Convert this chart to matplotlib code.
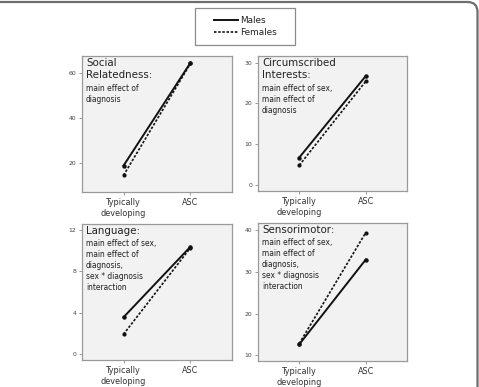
import matplotlib
matplotlib.use("Agg")
import matplotlib.pyplot as plt
from matplotlib.patches import Rectangle
from matplotlib.lines import Line2D
from matplotlib.path import Path
from matplotlib.patches import PathPatch

groups = ["Typically\ndeveloping", "ASC"]
titles = ["Social\nRelatedness:", "Circumscribed\nInterests:", "Language:", "Sensorimotor:"]
notes = ["main effect of\ndiagnosis",
         "main effect of sex,\nmain effect of\ndiagnosis",
         "main effect of sex,\nmain effect of\ndiagnosis,\nsex * diagnosis\ninteraction",
         "main effect of sex,\nmain effect of\ndiagnosis,\nsex * diagnosis\ninteraction"]
males = [[18.8, 64.5], [6.7, 26.7], [3.55, 10.4], [12.6, 33.0]]
females = [[14.5, 64.2], [4.8, 25.4], [1.9, 10.3], [12.8, 39.5]]
yticks = [[20, 40, 60], [0, 10, 20, 30], [0, 4, 8, 12], [10, 20, 30, 40]]
ylims = [(7.1, 67.5), (-1.5, 31.6), (-0.6, 12.6), (8.6, 41.8)]

W, H = 479, 387
fig = plt.figure(figsize=(W / 100, H / 100), dpi=100)

# outer frame: top edge and right edge with rounded top-right corner (in pixels)
def px(x, y):
    return (x / W, 1 - y / H)

r = 10
verts = [px(0, 2), px(W - 1.5 - r, 2), px(W - 1.5, 2), px(W - 1.5, 2 + r), px(W - 1.5, H)]
codes = [Path.MOVETO, Path.LINETO, Path.CURVE3, Path.CURVE3, Path.LINETO]
fig.patches.append(PathPatch(Path(verts, codes), transform=fig.transFigure,
                             facecolor="none", edgecolor="#6e6e6e", linewidth=1.6))

boxes = [(82, 56, 150, 136), (258, 56, 149, 135), (82, 224, 150, 136), (258, 223, 149, 138)]
for i, (x0, y0, w, h) in enumerate(boxes):
    ax = fig.add_axes([x0 / W, (H - y0 - h) / H, w / W, h / H])
    ax.set_facecolor("#f2f2f2")
    for s in ax.spines.values():
        s.set_color("#9a9a9a")
        s.set_linewidth(0.9)
    xs = [0, 1]
    ax.plot(xs, males[i], color="#111111", lw=1.4, marker="o", ms=2.2, ls="-")
    ax.plot(xs, females[i], color="#111111", lw=1.2, marker="o", ms=2.0, ls=(0, (1.5, 1)))
    ax.set_xlim(-0.62, 1.62)
    ax.set_ylim(*ylims[i])
    ax.set_xticks(xs)
    ax.set_xticklabels(groups, fontsize=5.9, linespacing=1.2)
    ax.set_yticks(yticks[i])
    ax.set_yticklabels([str(v) for v in yticks[i]], fontsize=4.4)
    ax.tick_params(axis="both", colors="#888888", length=2.5, width=0.6, pad=1.5)
    ax.tick_params(axis="x", labelcolor="#333333", pad=2)
    ax.tick_params(axis="y", labelcolor="#444444")
    ax.text(4 / w, 1 - 2 / h, titles[i], transform=ax.transAxes, va="top", ha="left",
            fontsize=7.4, color="#222222", linespacing=1.25)
    nlines = titles[i].count("\n") + 1
    ax.text(4 / w, 1 - (2 + nlines * 12.7 + 0.5) / h, notes[i], transform=ax.transAxes,
            va="top", ha="left", fontsize=5.45, color="#222222", linespacing=1.28)

# legend box
fig.patches.append(Rectangle(px(195, 45), 100 / W, 37 / H, transform=fig.transFigure,
                             facecolor="white", edgecolor="#8c8c8c", linewidth=0.9))
handles = [Line2D([], [], color="#111111", lw=1.4, ls="-"),
           Line2D([], [], color="#111111", lw=1.2, ls=(0, (1.5, 1)))]
leg = fig.legend(handles, ["Males", "Females"], loc="center",
                 bbox_to_anchor=px(245.5, 26.5), fontsize=6.4, frameon=False,
                 handlelength=2.6, handletextpad=0.25, borderpad=0.0,
                 labelspacing=0.32, borderaxespad=0)
for tx in leg.get_texts():
    tx.set_color("#222222")

fig.savefig("out.png", dpi=100)
